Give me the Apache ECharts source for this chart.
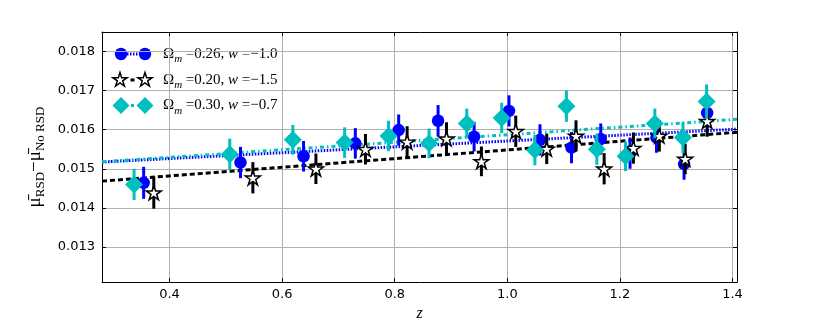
<!DOCTYPE html>
<html><head><meta charset="utf-8">
<script src="https://cdn.jsdelivr.net/npm/echarts@6/dist/echarts.min.js"></script>
<style>html,body{margin:0;padding:0;background:#fff}#c{width:817px;height:327px}</style>
</head><body><div id="c"></div>
<script>
// ---- data ----
const zCyan  = [0.337,0.507,0.619,0.711,0.789,0.861,0.928,0.990,1.049,1.105,1.159,1.210,1.262,1.312,1.354];
const muCyan = [0.01460,0.01537,0.01574,0.01567,0.01584,0.01565,0.01616,0.01630,0.01548,0.01660,0.01550,0.01532,0.01616,0.01580,0.01672];
const errCyan= [0.00040,0.00040,0.00038,0.00039,0.00039,0.00038,0.00038,0.00039,0.00039,0.00040,0.00040,0.00038,0.00038,0.00040,0.00044];

const zBlue  = [0.354,0.526,0.638,0.730,0.807,0.877,0.941,1.003,1.058,1.114,1.166,1.218,1.265,1.314,1.355];
const muBlue = [0.01464,0.01516,0.01532,0.01565,0.01599,0.01623,0.01582,0.01648,0.01574,0.01554,0.01576,0.01540,0.01580,0.01512,0.01643];
const errBlue= [0.00041,0.00040,0.00039,0.00039,0.00040,0.00040,0.00038,0.00040,0.00040,0.00040,0.00040,0.00040,0.00039,0.00040,0.00040];

const zStar  = [0.372,0.548,0.660,0.748,0.822,0.892,0.954,1.015,1.070,1.122,1.172,1.224,1.270,1.316,1.355];
const muStar = [0.01439,0.01477,0.01500,0.01550,0.01569,0.01577,0.01519,0.01596,0.01551,0.01584,0.01500,0.01553,0.01584,0.01525,0.01622];
const errStar= [0.00041,0.00040,0.00039,0.00039,0.00040,0.00042,0.00038,0.00040,0.00039,0.00040,0.00040,0.00040,0.00040,0.00039,0.00040];

const lineZ    = [0.28, 1.408];
const lineBlue = [0.015172, 0.016015];
const lineStar = [0.014684, 0.015934];
const lineCyan = [0.015177, 0.016265];

const xTicks = [0.4, 0.6, 0.8, 1.0, 1.2, 1.4];
const yTicks = [0.013, 0.014, 0.015, 0.016, 0.017, 0.018];
const omegaVals = ['0.26', '0.20', '0.30'];
const wVals = ['\u22121.0', '\u22121.5', '\u22120.7'];

// ---- styling ----
const BLUE = '#0000ff', CYAN = '#00bfbf', BLACK = '#000000';
const X0 = 0.28, X1 = 1.408, Y0 = 0.0121, Y1 = 0.0185;

// star shape (unit), y down
const starUnit = [];
for (let k = 0; k < 10; k++) {
  const r = (k % 2 === 0) ? 1 : 0.382;
  const a = (-90 + 36 * k) * Math.PI / 180;
  starUnit.push([r * Math.cos(a), r * Math.sin(a)]);
}
const starPath = 'path://' + starUnit.map((p, i) => (i ? 'L' : 'M') + (p[0] * 100 + 95.1).toFixed(2) + ',' + (p[1] * 100 + 100).toFixed(2)).join(' ') + ' Z';

function zip(z, m, e) { return z.map((v, i) => e ? [v, m[i], e[i]] : [v, m[i]]); }

function errSeries(z, m, e, color, zz) {
  return {
    type: 'custom', z: zz, silent: true, clip: true,
    data: zip(z, m, e),
    renderItem: function (params, api) {
      const x = api.value(0), y = api.value(1), d = api.value(2);
      const p1 = api.coord([x, y - d]), p2 = api.coord([x, y + d]);
      return { type: 'line', shape: { x1: p1[0], y1: p1[1], x2: p2[0], y2: p2[1] },
               style: { stroke: color, lineWidth: 3 } };
    }
  };
}
function fitSeries(vals, color, dash, zz) {
  return { type: 'line', z: zz, silent: true, symbol: 'none', animation: false,
           data: lineZ.map((v, i) => [v, vals[i]]),
           lineStyle: { color: color, width: 3, type: dash, cap: 'butt' } };
}

// legend (drawn as graphic)
const rowY = [54, 80, 105.5];
const lx1 = 121, lx2 = 145, tx = 163;
const rich = {
  a: { fontFamily: 'Liberation Serif', fontSize: 15, lineHeight: 22, fill: '#000', color: '#000' },
  s: { fontFamily: 'Liberation Serif', fontSize: 11, lineHeight: 11, fontStyle: 'italic', verticalAlign: 'bottom', fill: '#000', color: '#000' },
  i: { fontFamily: 'Liberation Serif', fontSize: 15, lineHeight: 22, fontStyle: 'italic', fill: '#000', color: '#000' }
};
const graphics = [];
function diamondPts(cx, cy, r) { return [[cx, cy - r], [cx + r, cy], [cx, cy + r], [cx - r, cy]]; }
function starPts(cx, cy, r) { return starUnit.map(p => [cx + p[0] * r, cy + p[1] * r]); }
// row 1 blue
graphics.push({ type: 'line', shape: { x1: lx1 + 6, y1: rowY[0], x2: lx2 - 6, y2: rowY[0] }, style: { stroke: BLUE, lineWidth: 3, lineDash: [1.5, 1.5] } });
graphics.push({ type: 'circle', shape: { cx: lx1, cy: rowY[0], r: 6.2 }, style: { fill: BLUE } });
graphics.push({ type: 'circle', shape: { cx: lx2, cy: rowY[0], r: 6.2 }, style: { fill: BLUE } });
// row 2 star
graphics.push({ type: 'rect', shape: { x: 130.5, y: rowY[1] - 1.5, width: 4, height: 3 }, style: { fill: BLACK } });
graphics.push({ type: 'polygon', shape: { points: starPts(lx1 - 1, rowY[1], 7.5) }, style: { fill: '#fff', stroke: BLACK, lineWidth: 1.5 } });
graphics.push({ type: 'polygon', shape: { points: starPts(lx2, rowY[1], 7.5) }, style: { fill: '#fff', stroke: BLACK, lineWidth: 1.5 } });
// row 3 cyan
graphics.push({ type: 'rect', shape: { x: 131, y: rowY[2] - 1.5, width: 3, height: 3 }, style: { fill: CYAN } });
graphics.push({ type: 'polygon', shape: { points: diamondPts(lx1, rowY[2], 8.5) }, style: { fill: CYAN } });
graphics.push({ type: 'polygon', shape: { points: diamondPts(lx2, rowY[2], 8.5) }, style: { fill: CYAN } });
for (let k = 0; k < 3; k++) {
  graphics.push({ type: 'text', x: tx, y: rowY[k], style: {
    text: '{a|\u03A9}{s|m}{a| =' + omegaVals[k] + ', }{i|w}{a| =' + wVals[k] + '}',
    rich: rich, verticalAlign: 'middle', align: 'left', fill: '#000' } });
}

const tickLabel = { fontFamily: 'DejaVu Sans', fontSize: 13, color: '#000' };
const chart = echarts.init(document.getElementById('c'), null, { renderer: 'canvas' });
chart.setOption({
  animation: false,
  backgroundColor: '#fff',
  grid: { left: 102, right: 80, top: 32, bottom: 41, containLabel: false },
  xAxis: [{
    type: 'value', min: X0, max: X1, position: 'bottom',
    name: 'z', nameLocation: 'middle', nameGap: 16,
    nameTextStyle: { fontFamily: 'Liberation Serif', fontStyle: 'italic', fontSize: 16, color: '#000' },
    axisLine: { show: true, onZero: false, lineStyle: { color: '#000', width: 1 } },
    axisTick: { show: true, inside: true, length: 4, customValues: xTicks, lineStyle: { color: '#000' } },
    axisLabel: Object.assign({ customValues: xTicks, margin: 6, formatter: v => v.toFixed(1) }, tickLabel),
    splitLine: { show: true, lineStyle: { color: '#b0b0b0', width: 1 } }
  }, {
    type: 'value', min: X0, max: X1, position: 'top',
    axisLine: { show: true, onZero: false, lineStyle: { color: '#000', width: 1 } },
    axisTick: { show: true, inside: true, length: 4, customValues: xTicks, lineStyle: { color: '#000' } },
    axisLabel: { show: false }, splitLine: { show: false }
  }],
  yAxis: [{
    type: 'value', min: Y0, max: Y1, position: 'left',
    name: '{a|\u03BC\u0304}{s|RSD}{a|\u2212}{a|\u03BC\u0304}{s|No RSD}',
    nameLocation: 'middle', nameRotate: 90, nameGap: 50,
    nameTextStyle: { fontFamily: 'Liberation Serif', fontSize: 19, color: '#000',
      rich: {
        a: { fontFamily: 'Liberation Serif', fontSize: 19, lineHeight: 24, color: '#000' },
        s: { fontFamily: 'Liberation Serif', fontSize: 13, lineHeight: 13, verticalAlign: 'bottom', color: '#000' }
      } },
    axisLine: { show: true, onZero: false, lineStyle: { color: '#000', width: 1 } },
    axisTick: { show: true, inside: true, length: 4, customValues: yTicks, lineStyle: { color: '#000' } },
    axisLabel: Object.assign({ customValues: yTicks, margin: 7, formatter: v => v.toFixed(3) }, tickLabel),
    splitLine: { show: true, lineStyle: { color: '#b0b0b0', width: 1 } }
  }, {
    type: 'value', min: Y0, max: Y1, position: 'right',
    axisLine: { show: true, onZero: false, lineStyle: { color: '#000', width: 1 } },
    axisTick: { show: true, inside: true, length: 4, customValues: yTicks, lineStyle: { color: '#000' } },
    axisLabel: { show: false }, splitLine: { show: false }
  }],
  graphic: graphics,
  series: [
    fitSeries(lineBlue, BLUE, [1.5, 1.5], 2),
    fitSeries(lineStar, BLACK, [5, 3], 2),
    fitSeries(lineCyan, CYAN, [4, 3, 1.5, 3], 2),
    errSeries(zBlue, muBlue, errBlue, BLUE, 3),
    { type: 'scatter', z: 4, silent: true, data: zip(zBlue, muBlue), symbol: 'circle', symbolSize: 12.5,
      itemStyle: { color: BLUE, opacity: 1 } },
    errSeries(zStar, muStar, errStar, BLACK, 5),
    { type: 'scatter', z: 6, silent: true, data: zip(zStar, muStar), symbol: starPath, symbolSize: [15, 14.3],
      itemStyle: { color: '#fff', borderColor: BLACK, borderWidth: 1.5, opacity: 1 } },
    errSeries(zCyan, muCyan, errCyan, CYAN, 7),
    { type: 'scatter', z: 8, silent: true, data: zip(zCyan, muCyan), symbol: 'diamond', symbolSize: [18, 18],
      itemStyle: { color: CYAN, opacity: 1 } }
  ]
});
</script>
</body></html>
